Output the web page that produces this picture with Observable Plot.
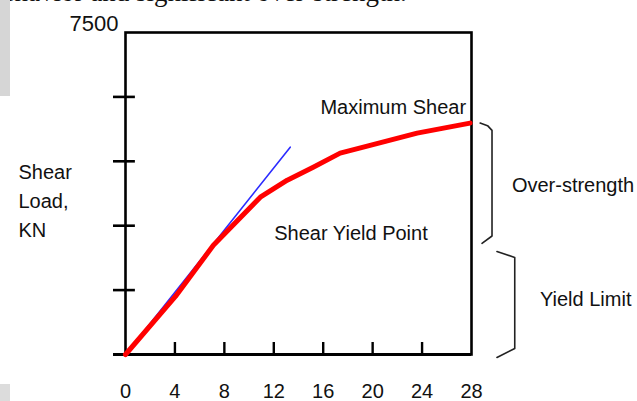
<!DOCTYPE html>
<html><head><meta charset="utf-8">
<script src="https://cdn.jsdelivr.net/npm/d3@7"></script>
<script src="https://cdn.jsdelivr.net/npm/@observablehq/plot@0.6"></script>
<style>
body{margin:0;background:#fff;position:relative;width:637px;height:401px;overflow:hidden;font-family:"Liberation Sans",Arial,sans-serif}
#chart{position:absolute;left:0;top:0}
#frag{position:absolute;left:-11px;top:-21px;font:27px/27px "Liberation Serif","Times New Roman",serif;color:#111;white-space:nowrap}
.scan{position:absolute;left:0;width:10px;background:#d6d6d6}
</style></head><body>
<div id="chart"></div>
<div id="frag">behavior and significant over-strength.</div>
<div class="scan" style="top:0;height:96px"></div>
<div class="scan" style="top:384px;height:17px;background:#dcdcdc"></div>
<script>
// Shear load (kN) vs. displacement
const drift = [0, 4.04, 7.11, 10.91, 13.09, 15.19, 17.37, 19.56, 23.6, 27.88];
const shear = [0, 1353, 2543, 3663, 4060, 4363, 4690, 4853, 5156, 5390];
// initial elastic tangent
const tangentX = [0, 13.33];
const tangentY = [0, 4830];
// axis ticks
const xTicks = [0, 4, 8, 12, 16, 20, 24, 28];
const yTicks = [1500, 3000, 4500, 6000];
const yTopLabel = [7500];
// ranges marked by braces
const overStrength = [2590, 5390];
const yieldLimit = [-70, 2400];
// annotations
const noteText = ["Maximum Shear", "Shear Yield Point", "Over-strength", "Yield Limit"];
const noteX = [27.56, 12.04, 31.27, 33.54];
const noteY = [5749, 2809, 3929, 1269];
const yLabel = "Shear\nLoad,\nKN";

const curve = drift.map((x, i) => ({x, y: shear[i]}));
const tangent = tangentX.map((x, i) => ({x, y: tangentY[i]}));
const notes = noteText.map((t, i) => ({t, x: noteX[i], y: noteY[i]}));

const braces = [
  {id: "os", x: 28.7, y: overStrength[1]},
  {id: "os", x: 29.3, y: overStrength[1] - 60},
  {id: "os", x: 29.66, y: overStrength[1] - 170},
  {id: "os", x: 29.66, y: overStrength[0] + 170},
  {id: "os", x: 28.85, y: overStrength[0]},
  {id: "yl", x: 30.06, y: yieldLimit[1]},
  {id: "yl", x: 31.5, y: yieldLimit[1] - 140},
  {id: "yl", x: 31.5, y: yieldLimit[0] + 210},
  {id: "yl", x: 30.06, y: yieldLimit[0]}
];

const chart = Plot.plot({
  width: 637,
  height: 401,
  marginLeft: 125,
  marginRight: 166,
  marginTop: 32,
  marginBottom: 47,
  style: {fontFamily: '"Liberation Sans", Arial, sans-serif', fontSize: "20px", color: "#111", background: "transparent"},
  x: {domain: [0, 28]},
  y: {domain: [0, 7500]},
  marks: [
    Plot.frame({stroke: "#000", strokeWidth: 2.6}),
    Plot.ruleY([0], {x1: -0.97, x2: 28, stroke: "#000", strokeWidth: 2.8}),
    Plot.ruleY(yTicks, {x1: -0.97, x2: 0.8, stroke: "#000", strokeWidth: 2.6}),
    Plot.ruleX(xTicks.slice(1, -1), {y1: 0, y2: 280, stroke: "#000", strokeWidth: 2.4}),
    Plot.line(tangent, {x: "x", y: "y", stroke: "#2b2bff", strokeWidth: 1.6}),
    Plot.line(curve, {x: "x", y: "y", stroke: "#ff0000", strokeWidth: 5, strokeLinejoin: "round"}),
    Plot.line(braces, {x: "x", y: "y", z: "id", stroke: "#222", strokeWidth: 1.6}),
    Plot.text(notes.slice(0, 1), {x: "x", y: "y", text: "t", textAnchor: "end", fontSize: 20, fill: "#111"}),
    Plot.text(notes.slice(1), {x: "x", y: "y", text: "t", textAnchor: "start", fontSize: 20, fill: "#111"}),
    Plot.text([yLabel], {text: d => d, frameAnchor: "left", y: 3626, dx: -107, textAnchor: "start", lineHeight: 1.43, fontSize: 20, fill: "#111"}),
    Plot.axisX(xTicks, {tickSize: 0, tickPadding: 29, label: null, fontSize: 20}),
    Plot.axisY(yTopLabel, {tickSize: 0, tickPadding: 7, dy: -9, label: null, fontSize: 22, tickFormat: d => String(d)})
  ]
});
document.getElementById("chart").appendChild(chart);
</script>
</body></html>
